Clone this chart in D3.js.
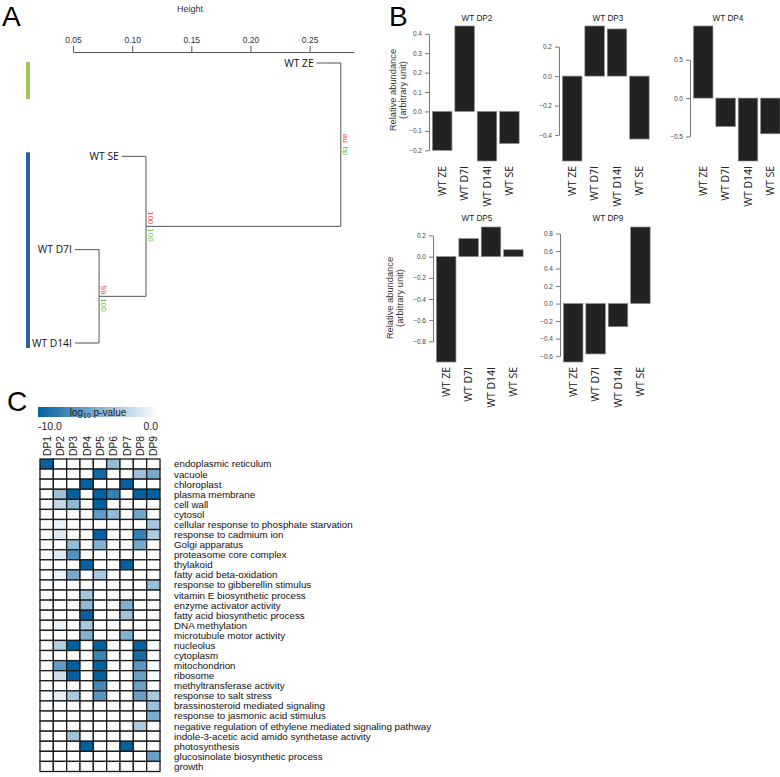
<!DOCTYPE html>
<html><head><meta charset="utf-8">
<script src="https://cdn.jsdelivr.net/npm/d3@7"></script>
<style>body{margin:0;background:#fff} svg{display:block}</style>
</head><body>
<svg id="c" width="780" height="777"></svg>
<script>
// ---------- Panel A : dendrogram ----------
const leaves = ["WT ZE", "WT SE", "WT D7I", "WT D14I"];
// each merge: [childA, childB]; numeric child = index of earlier merge
const merges = [["WT D7I", "WT D14I"], ["WT SE", 0], ["WT ZE", 1]];
const mergeHeights = [0.072, 0.1116, 0.276];
const auValues = ["99", "100", "au"];
const bpValues = ["100", "100", "bp"];
const heightTicks = [0.05, 0.10, 0.15, 0.20, 0.25];

// ---------- Panel B : bar charts ----------
const samples = ["WT ZE", "WT D7I", "WT D14I", "WT SE"];
const dp2 = [-0.20, 0.44, -0.255, -0.165];
const dp3 = [-0.576, 0.34, 0.32, -0.427];
const dp4 = [0.94, -0.37, -0.82, -0.465];
const dp5 = [-0.995, 0.17, 0.28, 0.065];
const dp9 = [-0.667, -0.575, -0.264, 0.874];
const dp2Ticks = [-0.2, -0.1, 0.0, 0.1, 0.2, 0.3, 0.4];
const dp3Ticks = [-0.4, -0.2, 0.0, 0.2];
const dp4Ticks = [-0.5, 0.0, 0.5];
const dp5Ticks = [-0.8, -0.6, -0.4, -0.2, 0.0, 0.2];
const dp9Ticks = [-0.6, -0.4, -0.2, 0.0, 0.2, 0.4, 0.6, 0.8];

// ---------- Panel C : enrichment heatmap ----------
const dpColumns = ["DP1","DP2","DP3","DP4","DP5","DP6","DP7","DP8","DP9"];
const goTerms = [
 "endoplasmic reticulum","vacuole","chloroplast","plasma membrane","cell wall","cytosol",
 "cellular response to phosphate starvation","response to cadmium ion","Golgi apparatus",
 "proteasome core complex","thylakoid","fatty acid beta-oxidation","response to gibberellin stimulus",
 "vitamin E biosynthetic process","enzyme activator activity","fatty acid biosynthetic process",
 "DNA methylation","microtubule motor activity","nucleolus","cytoplasm","mitochondrion","ribosome",
 "methyltransferase activity","response to salt stress","brassinosteroid mediated signaling",
 "response to jasmonic acid stimulus","negative regulation of ethylene mediated signaling pathway",
 "indole-3-acetic acid amido synthetase activity","photosynthesis","glucosinolate biosynthetic process","growth"
];
const log10p = [
 [-10,0,0,0,0,-4.3,0,0,0],
 [0,0,0,0,-9.5,0,0,-4,-5.5],
 [0,0,0,-10,0,0,-10,0,0],
 [0,-4,-10,0,-10,-8,0,-10,-10],
 [0,-2.5,-4.5,0,-10,0,0,0,0],
 [0,0,0,0,-6.3,-4.3,0,-5.7,0],
 [0,-0.8,0,0,0,0,0,0,-3.6],
 [0,-1.3,0,0,-10,0,0,-8,-3.2],
 [0,0,-4.3,0,-5,0,0,-5.5,0],
 [0,-1.2,-7,0,0,0,0,0,0],
 [0,0,0,-10,0,0,-10,0,0],
 [0,-0.8,-5.3,0,-3.5,0,0,0,0],
 [0,0,0,0,0,0,0,0,-4.1],
 [0,0,0,-3.6,0,0,0,0,0],
 [0,0,0,-4.4,0,0,-5.1,0,0],
 [0,0,0,-10,0,0,-3.8,0,0],
 [0,-0.8,0,-3.5,0,0,0,0,0],
 [0,0,0,-5,0,0,-5,0,0],
 [0,-3,-10,0,-10,0,0,-10,0],
 [0,0,0,0,-7.8,0,0,-9.3,0],
 [0,-6.3,-10,0,-10,0,0,-6.5,0],
 [0,-2,-10,0,-10,0,0,-6,0],
 [0,0,0,0,-7.5,0,0,-6,0],
 [0,-1,-3.5,0,-6.8,0,0,-6,-3.4],
 [0,0,0,0,0,0,0,0,-4],
 [0,0,0,0,0,0,0,0,-5.3],
 [0,0,0,0,0,0,0,-3.4,0],
 [0,0,-3.8,0,0,0,0,0,0],
 [0,0,0,-10,0,0,-10,0,0],
 [0,0,0,0,0,0,0,0,-6],
 [0,0,0,0,0,0,0,0,0]
];
const colorbarTicks = ["-10.0", "0.0"];

const svg = d3.select("#c");
const LAB = "'Open Sans', sans-serif";
const ARIAL = "'Liberation Sans', Arial, sans-serif";

// panel letters
[["A", 2, 26], ["B", 389, 26], ["C", 7, 411]].forEach(([t, x, y]) =>
  svg.append("text").attr("x", x).attr("y", y).text(t)
    .attr("font-family", ARIAL).attr("font-size", 28).attr("fill", "#000"));

// ====== Panel A ======
(function () {
  const xH = d3.scaleLinear().domain([0.05, 0.25]).range([73, 310]);
  const yL = d3.scalePoint().domain(leaves).range([63, 343]);
  const g = svg.append("g");
  const axisScale = xH.copy().domain([0.05, 0.2875]).range([73, 354]);
  const ax = g.append("g").attr("transform", "translate(0,52)")
    .call(d3.axisTop(axisScale).tickValues(heightTicks).tickFormat(d3.format(".2f"))
      .tickSize(6).tickPadding(3).tickSizeOuter(0));
  ax.selectAll("path,line").attr("stroke", "#555");
  ax.selectAll("text").attr("font-family", ARIAL).attr("font-size", 8.5).attr("fill", "#333");
  g.append("text").attr("x", 190).attr("y", 12).attr("text-anchor", "middle")
    .attr("font-family", ARIAL).attr("font-size", 9).attr("fill", "#333").text("Height");

  const hang = 0.1 * (d3.max(mergeHeights) - d3.min(mergeHeights));
  const nodes = [];
  const pos = c => (typeof c === "number") ? nodes[c] : { y: yL(c), leaf: c };
  merges.forEach((m, i) => {
    const h = mergeHeights[i];
    const nx = xH(h);
    const kids = m.map(pos);
    kids.forEach(k => {
      const kx = k.leaf ? xH(h - hang) : k.x;
      g.append("line").attr("x1", kx).attr("x2", nx).attr("y1", k.y).attr("y2", k.y)
        .attr("stroke", "#555").attr("stroke-width", 1);
      if (k.leaf) {
        g.append("text").attr("x", kx - 3).attr("y", k.y).attr("dy", "0.35em")
          .attr("text-anchor", "end").attr("font-family", LAB).attr("font-size", 10.3)
          .attr("fill", "#111").text(k.leaf);
      }
    });
    g.append("line").attr("x1", nx).attr("x2", nx).attr("y1", kids[0].y).attr("y2", kids[1].y)
      .attr("stroke", "#555").attr("stroke-width", 1);
    const my = (kids[0].y + kids[1].y) / 2;
    nodes.push({ x: nx, y: my });
    g.append("text").attr("transform", `translate(${nx + 2},${my - 2}) rotate(90)`)
      .attr("text-anchor", "end").attr("font-family", ARIAL).attr("font-size", 8)
      .attr("fill", "#f04040").text(auValues[i]);
    g.append("text").attr("transform", `translate(${nx + 2},${my + 2}) rotate(90)`)
      .attr("text-anchor", "start").attr("font-family", ARIAL).attr("font-size", 8)
      .attr("fill", "#5cc030").text(bpValues[i]);
  });
  // cluster bars
  g.append("rect").attr("x", 26).attr("width", 4).attr("y", yL("WT ZE") - 1)
    .attr("height", 37).attr("fill", "#a6c65c");
  g.append("rect").attr("x", 26).attr("width", 4).attr("y", yL("WT SE") - 4)
    .attr("height", yL("WT D14I") + 5 - (yL("WT SE") - 4)).attr("fill", "#2b6198");
})();

// ====== Panel B ======
function barPanel(values, ticks, title, axisX, top, bottom, titleX, titleY, ylab) {
  const g = svg.append("g");
  const y = d3.scaleLinear().domain([Math.min(0, d3.min(values)), Math.max(0, d3.max(values))])
    .range([bottom, top]);
  const x = d3.scaleBand().domain(samples).range([axisX + 2, axisX + 2 + 4 * 22.4])
    .paddingInner(0.13).paddingOuter(0.065);
  g.selectAll("rect").data(values).join("rect")
    .attr("x", (d, i) => x(samples[i])).attr("width", x.bandwidth())
    .attr("y", d => y(Math.max(0, d))).attr("height", d => Math.abs(y(d) - y(0)))
    .attr("fill", "#222").attr("stroke", "#8a8a8a").attr("stroke-width", 0.7);
  const axScale = y.copy().domain([d3.min(ticks), d3.max(ticks)])
    .range([y(d3.min(ticks)), y(d3.max(ticks))]);
  const ax = g.append("g").attr("transform", `translate(${axisX},0)`)
    .call(d3.axisLeft(axScale).tickValues(ticks).tickFormat(d3.format(".1f"))
      .tickSize(4).tickPadding(3).tickSizeOuter(0));
  ax.selectAll("path,line").attr("stroke", "#777");
  ax.selectAll("text").attr("font-family", ARIAL).attr("font-size", 6.5).attr("fill", "#444");
  g.append("text").attr("x", titleX).attr("y", titleY).attr("dy", "0.35em")
    .attr("text-anchor", "middle").attr("font-family", ARIAL).attr("font-size", 8.2)
    .attr("fill", "#222").text(title);
  samples.forEach(s => {
    g.append("text").attr("transform", `translate(${x(s) + x.bandwidth() / 2 + 3.8},${bottom + 5}) rotate(-90)`)
      .attr("text-anchor", "end").attr("font-family", LAB).attr("font-size", 10.5)
      .attr("fill", "#111").text(s);
  });
  if (ylab) {
    const cy = ylab.cy;
    g.append("text").attr("transform", `translate(${ylab.x1},${cy}) rotate(-90)`)
      .attr("text-anchor", "middle").attr("dy", "0.35em").attr("font-family", ARIAL)
      .attr("font-size", 9.3).attr("fill", "#333").text("Relative abundance");
    g.append("text").attr("transform", `translate(${ylab.x1 + 10},${cy}) rotate(-90)`)
      .attr("text-anchor", "middle").attr("dy", "0.35em").attr("font-family", ARIAL)
      .attr("font-size", 9.3).attr("fill", "#333").text("(arbitrary unit)");
  }
}
barPanel(dp2, dp2Ticks, "WT DP2", 429, 26, 161, 477, 18, { x1: 393, cy: 90 });
barPanel(dp3, dp3Ticks, "WT DP3", 559, 26, 161, 608, 18, null);
barPanel(dp4, dp4Ticks, "WT DP4", 690, 26, 161, 728, 18, null);
barPanel(dp5, dp5Ticks, "WT DP5", 433, 227, 362, 477, 218, { x1: 390, cy: 298 });
barPanel(dp9, dp9Ticks, "WT DP9", 560, 227, 362, 608, 218, null);

// ====== Panel C ======
(function () {
  const g = svg.append("g");
  const col = d3.scaleLinear().domain([-10, 0]).range(["#0461a0", "#ffffff"]);
  const x = d3.scaleBand().domain(dpColumns).range([40, 160]);
  const y = d3.scaleBand().domain(goTerms).range([459, 459 + 31 * 10.08]);
  // colour bar
  const defs = svg.append("defs");
  const grad = defs.append("linearGradient").attr("id", "cb");
  d3.range(0, 1.01, 0.1).forEach(t => grad.append("stop")
    .attr("offset", t).attr("stop-color", col(-10 + 10 * t)));
  g.append("rect").attr("x", 38).attr("y", 407).attr("width", 120).attr("height", 10)
    .attr("fill", "url(#cb)");
  const lt = g.append("text").attr("x", 98).attr("y", 415.5).attr("text-anchor", "middle")
    .attr("font-family", ARIAL).attr("font-size", 10).attr("fill", "#222");
  lt.append("tspan").text("log");
  lt.append("tspan").attr("font-size", 7).attr("dy", 2.5).text("10");
  lt.append("tspan").attr("dy", -2.5).text(" p-value");
  g.append("text").attr("x", 38).attr("y", 430).attr("font-family", ARIAL)
    .attr("font-size", 10.5).attr("fill", "#222").text(colorbarTicks[0]);
  g.append("text").attr("x", 158).attr("y", 430).attr("text-anchor", "end")
    .attr("font-family", ARIAL).attr("font-size", 10.5).attr("fill", "#222").text(colorbarTicks[1]);
  // column labels
  dpColumns.forEach(c => g.append("text")
    .attr("transform", `translate(${x(c) + x.bandwidth() / 2 + 4},456) rotate(-90)`)
    .attr("font-family", ARIAL).attr("font-size", 10.3).attr("fill", "#222").text(c));
  // cells
  goTerms.forEach((t, r) => {
    dpColumns.forEach((c, k) => {
      g.append("rect").attr("x", x(c)).attr("y", y(t)).attr("width", x.bandwidth())
        .attr("height", y.bandwidth()).attr("fill", col(log10p[r][k]))
        .attr("stroke", "#1a1a1a").attr("stroke-width", 1.3);
    });
    g.append("text").attr("x", 174).attr("y", y(t) + y.bandwidth() / 2).attr("dy", "0.35em")
      .attr("font-family", ARIAL).attr("font-size", 9.8).attr("fill", "#111").text(t);
  });
})();
</script>
</body></html>
